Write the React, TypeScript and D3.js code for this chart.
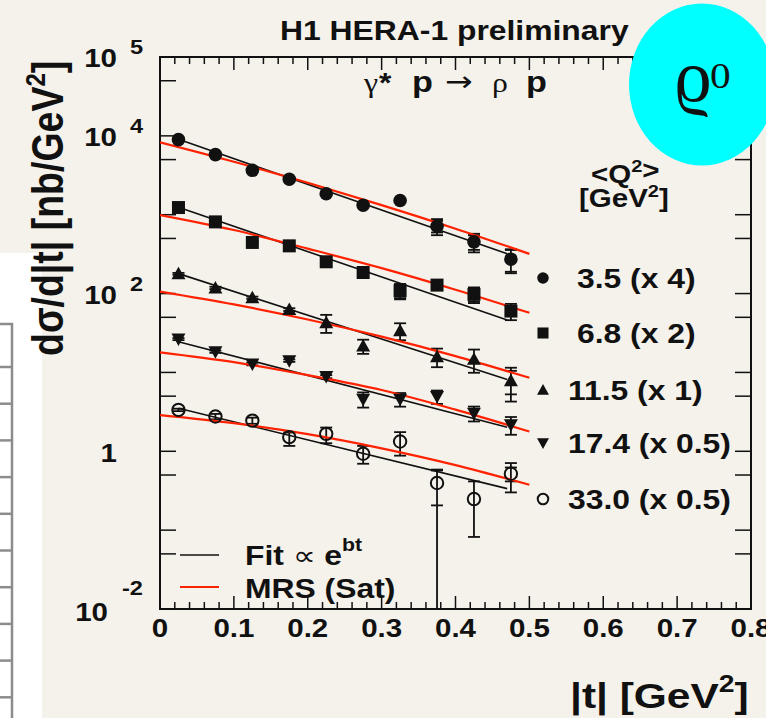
import React from 'react';
import * as d3 from 'd3';

// ---------- data ----------
const T = [0.025, 0.075, 0.125, 0.175, 0.225, 0.275, 0.325, 0.375, 0.425, 0.475];
const FIT_T = [0.025, 0.47];
const MRS_T = [0, 0.1, 0.2, 0.3, 0.4, 0.5];

// series 1: <Q2>=3.5 (x4), full circles
const s1Vals = [8954, 5781, 3656, 2813, 1844, 1319, 1513, 715, 453, 273];
const s1Err = [260, 170, 110, 85, 55, 40, 45, 165, 120, 92];
const s1Stat = [0, 0, 0, 0, 0, 0, 0, 120, 95, 84];
const s1Fit = [9040, 320];
const s1Mrs = [8280, 4690, 2540, 1325, 665, 319];

// series 2: 6.8 (x2), squares
const s2Vals = [1233, 811, 445, 403, 253, 185, 108.5, 128, 97.7, 60.0];
const s2Err = [40, 25, 14, 12, 8, 6, 24, 6, 22, 14];
const s2Stat = [0, 0, 0, 0, 0, 0, 21, 0, 19, 0];
const s2Fit = [1242, 46.2];
const s2Mrs = [991, 640, 371, 210, 112, 57.0];

// series 3: 11.5 (x1), triangles up
const s3Vals = [178, 118, 88.5, 62.7, 42.7, 21.6, 33.8, 15.85, 14.7, 7.87];
const s3Err = [5, 4, 3, 2.5, 11, 4.4, 8.2, 4.2, 4.8, 3.6];
const s3Stat = [0, 0, 0, 0, 0, 0, 0, 0, 0, 2.6];
const s3Fit = [179, 8.13];
const s3Mrs = [106, 72.8, 46.9, 28.4, 16.1, 8.55];

// series 4: 17.4 (x0.5), triangles down
const s4Vals = [26.5, 18.3, 12.8, 14.1, 8.85, 4.58, 4.58, 4.94, 3.04, 2.17];
const s4Err = [0.8, 0.6, 0.5, 0.5, 0.4, 1.0, 0.9, 0.95, 0.65, 0.55];
const s4Stat = [0, 0, 0, 0, 0, 0, 0, 0, 0, 0];
const s4Fit = [24.5, 2.02];
const s4Mrs = [18.0, 13.5, 9.23, 5.98, 3.37, 1.78];

// series 5: 33.0 (x0.5), open circles
const s5Vals = [3.35, 2.76, 2.45, 1.51, 1.665, 0.93, 1.33, 0.396, 0.248, 0.519];
const s5ErrUp = [0.12, 0.22, 0.22, 0.22, 0.335, 0.24, 0.42, 0.175, 0.167, 0.19];
const s5ErrDown = [0.12, 0.22, 0.22, 0.34, 0.4, 0.235, 0.45, 0.4, 0.166, 0.218];
const s5Stat = [0, 0, 0, 0, 0, 0, 0, 0.19, 0, 0.104];
const s5Fit = [3.51, 0.336];
const s5Mrs = [2.88, 2.27, 1.65, 1.09, 0.668, 0.376];

const seriesLabels = ['3.5 (x 4)', '6.8 (x 2)', '11.5 (x 1)', '17.4 (x 0.5)', '33.0 (x 0.5)'];
const seriesMarkers = ['circle', 'square', 'triUp', 'triDown', 'open'];

const xTickLabels = ['0', '0.1', '0.2', '0.3', '0.4', '0.5', '0.6', '0.7', '0.8'];
const yLabelValues = [1e5, 1e4, 1e2, 1, 1e-2];
const yLabelExp = ['5', '4', '2', '', '-2'];

// ---------- helpers ----------
const W = 766;
const H = 718;
const FONT = "'Liberation Sans', Arial, Helvetica, sans-serif";
const SERIF = "'Liberation Serif', 'DejaVu Serif', serif";
const SX = 1.18;
const INK = '#111';
const RED = '#ff2200';

function SText(props: any) {
  const { x, y, size, anchor = 'start', weight = 'bold', family = FONT, fill = INK, children } = props;
  return (
    <text
      transform={`translate(${x},${y}) scale(${SX},1)`}
      fontSize={size}
      fontFamily={family}
      fontWeight={weight}
      textAnchor={anchor}
      fill={fill}
    >
      {children}
    </text>
  );
}

function Marker({ kind, cx, cy, s = 1 }: { kind: string; cx: number; cy: number; s?: number }) {
  if (kind === 'circle') return <circle cx={cx} cy={cy} r={6.8 * s} fill={INK} />;
  if (kind === 'open')
    return <circle cx={cx} cy={cy} r={6.2 * s} fill="none" stroke={INK} strokeWidth={2} />;
  if (kind === 'square')
    return <rect x={cx - 6.5 * s} y={cy - 6.5 * s} width={13 * s} height={13 * s} fill={INK} />;
  if (kind === 'triUp')
    return (
      <path
        d={`M${cx},${cy - 7 * s} L${cx + 7 * s},${cy + 5.5 * s} L${cx - 7 * s},${cy + 5.5 * s} Z`}
        fill={INK}
      />
    );
  return (
    <path
      d={`M${cx},${cy + 7 * s} L${cx + 7 * s},${cy - 5.5 * s} L${cx - 7 * s},${cy - 5.5 * s} Z`}
      fill={INK}
    />
  );
}

export default function App() {
  const x = d3.scaleLinear().domain([0, 0.8]).range([160, 751]);
  const y = d3.scaleLog().domain([1e-2, 1e5]).range([609, 57]);
  const x0 = 160, x1 = 751, y0 = 57, y1 = 609;

  const series = [
    { vals: s1Vals, up: s1Err, down: s1Err, stat: s1Stat, fit: s1Fit, mrs: s1Mrs },
    { vals: s2Vals, up: s2Err, down: s2Err, stat: s2Stat, fit: s2Fit, mrs: s2Mrs },
    { vals: s3Vals, up: s3Err, down: s3Err, stat: s3Stat, fit: s3Fit, mrs: s3Mrs },
    { vals: s4Vals, up: s4Err, down: s4Err, stat: s4Stat, fit: s4Fit, mrs: s4Mrs },
    { vals: s5Vals, up: s5ErrUp, down: s5ErrDown, stat: s5Stat, fit: s5Fit, mrs: s5Mrs },
  ];

  const line = d3
    .line<[number, number]>()
    .x((d) => x(d[0]))
    .y((d) => y(d[1]));
  const curve = d3
    .line<[number, number]>()
    .x((d) => x(d[0]))
    .y((d) => y(d[1]))
    .curve(d3.curveMonotoneX);

  const xTicks = d3.range(0, 41).map((i) => i * 0.02);
  const yMajor = d3.range(-2, 6).map((e) => Math.pow(10, e));
  const yMinor = d3.range(-2, 5).map((e) => 5 * Math.pow(10, e));
  const yTicks = [...yMajor, ...yMinor];

  const cap = 6;
  const yc = (v: number) => (v > 1e-2 ? y(v) : y1);

  return (
    <svg
      width={W}
      height={H}
      style={{ position: 'absolute', left: 0, top: 0, display: 'block' }}
    >
      <defs>
        <clipPath id="plotClip">
          <rect x={x0} y={y0} width={x1 - x0} height={y1 - y0} />
        </clipPath>
      </defs>
      <rect x={0} y={0} width={W} height={H} fill="#f5f2eb" />
      {/* neighbouring panel remnant */}
      <rect x={0} y={253} width={42} height={H - 253} fill="#ffffff" />
      <path d={`M0,324 H12 V${H}`} fill="none" stroke="#8c8c8c" strokeWidth={2.5} />
      {d3.range(0, 10).map((k) => (
        <line key={k} x1={0} x2={12} y1={367 + 36.7 * k} y2={367 + 36.7 * k} stroke="#8c8c8c" strokeWidth={2.5} />
      ))}

      {/* frame */}
      <rect x={x0} y={y0} width={x1 - x0} height={y1 - y0} fill="none" stroke={INK} strokeWidth={2} />
      {xTicks.map((t, i) => {
        const len = i % 5 === 0 ? 13 : 7;
        const px = x(t);
        return (
          <g key={'xt' + i}>
            <line x1={px} x2={px} y1={y1} y2={y1 - len} stroke={INK} strokeWidth={1.5} />
            <line x1={px} x2={px} y1={y0} y2={y0 + len} stroke={INK} strokeWidth={1.5} />
          </g>
        );
      })}
      {yTicks.map((v, i) => {
        const py = y(v);
        return (
          <g key={'yt' + i}>
            <line x1={x0} x2={x0 + 16} y1={py} y2={py} stroke={INK} strokeWidth={1.5} />
            <line x1={x1} x2={x1 - 16} y1={py} y2={py} stroke={INK} strokeWidth={1.5} />
          </g>
        );
      })}

      {/* x tick labels */}
      {xTickLabels.map((lab, i) => (
        <SText key={'xl' + i} x={x(i * 0.1)} y={637} size={25} anchor="middle">
          {lab}
        </SText>
      ))}
      {/* y tick labels */}
      {yLabelValues.map((v, i) => {
        const py = y(v);
        const e = yLabelExp[i];
        if (e === '') {
          return (
            <SText key={'yl' + i} x={117} y={py + 11} size={25} anchor="end">
              1
            </SText>
          );
        }
        const neg = e.startsWith('-');
        return (
          <g key={'yl' + i}>
            <SText x={neg ? 108 : 117} y={py + (neg ? 12 : 10)} size={25} anchor="end">
              10
            </SText>
            <SText x={neg ? 122 : 130} y={neg ? py - 14 : py - 3} size={20} anchor="start">
              {e}
            </SText>
          </g>
        );
      })}

      {/* data */}
      <g clipPath="url(#plotClip)">
        {series.map((s, si) =>
          s.vals.map((v, i) => {
            const px = x(T[i]);
            const hi = v + s.up[i];
            const lo = v - s.down[i];
            const st = s.stat[i];
            return (
              <g key={`e${si}-${i}`} stroke={INK} strokeWidth={1.8}>
                <line x1={px} x2={px} y1={y(hi)} y2={yc(lo)} />
                <line x1={px - cap} x2={px + cap} y1={y(hi)} y2={y(hi)} />
                {lo > 1e-2 && <line x1={px - cap} x2={px + cap} y1={y(lo)} y2={y(lo)} />}
                {st > 0 && (
                  <>
                    <line x1={px - cap} x2={px + cap} y1={y(v + st)} y2={y(v + st)} />
                    <line x1={px - cap} x2={px + cap} y1={y(v - st)} y2={y(v - st)} />
                  </>
                )}
              </g>
            );
          })
        )}
        {series.map((s, si) => (
          <path
            key={'fit' + si}
            d={line(FIT_T.map((t, i) => [t, s.fit[i]] as [number, number])) || ''}
            fill="none"
            stroke={INK}
            strokeWidth={1.6}
          />
        ))}
        {series.map((s, si) => (
          <path
            key={'mrs' + si}
            d={curve(MRS_T.map((t, i) => [t, s.mrs[i]] as [number, number])) || ''}
            fill="none"
            stroke={RED}
            strokeWidth={2.2}
          />
        ))}
        {series.map((s, si) =>
          s.vals.map((v, i) => (
            <Marker key={`m${si}-${i}`} kind={seriesMarkers[si]} cx={x(T[i])} cy={y(v)} />
          ))
        )}
      </g>

      {/* title */}
      <SText x={280} y={40} size={27}>
        H1 HERA-1 preliminary
      </SText>
      {/* reaction */}
      <SText x={364} y={92} size={27} weight="normal" family={SERIF}>γ</SText>
      <SText x={379} y={92} size={27}>*</SText>
      <SText x={412} y={92} size={29}>p</SText>
      <SText x={445} y={91} size={28} weight="normal" family="'DejaVu Sans', sans-serif">→</SText>
      <SText x={492} y={92} size={27} weight="normal" family={SERIF}>ρ</SText>
      <SText x={526} y={92} size={29}>p</SText>

      {/* legend header */}
      <SText x={591} y={183} size={25}>
        {'<Q'}
        <tspan dy={-11} fontSize={17}>2</tspan>
        <tspan dy={7}>{'>'}</tspan>
      </SText>
      <SText x={579} y={207} size={25}>
        [GeV
        <tspan dy={-10} fontSize={17}>2</tspan>
        <tspan dy={10}>]</tspan>
      </SText>

      {/* series legend */}
      {seriesLabels.map((lab, i) => {
        const cy = [278, 333, 390, 443, 499][i];
        return (
          <g key={'lg' + i}>
            <Marker kind={seriesMarkers[i]} cx={543} cy={cy} s={0.85} />
            <SText x={i < 2 ? 577 : 568} y={cy + 10} size={27}>
              {lab}
            </SText>
          </g>
        );
      })}

      {/* line legend */}
      <line x1={180} x2={219} y1={555} y2={555} stroke={INK} strokeWidth={1.6} />
      <SText x={245} y={565} size={27}>
        Fit <tspan fontWeight="normal">∝</tspan> e
        <tspan dy={-14} fontSize={18}>bt</tspan>
      </SText>
      <line x1={180} x2={219} y1={587} y2={587} stroke={RED} strokeWidth={2.2} />
      <SText x={245} y={598} size={27}>
        MRS (Sat)
      </SText>

      {/* axis titles */}
      <SText x={570} y={708} size={36}>
        |t| [GeV
        <tspan dy={-16} fontSize={24}>2</tspan>
        <tspan dy={16}>]</tspan>
      </SText>
      <text
        transform={`translate(63,356) scale(${SX},1) rotate(-90)`}
        fontSize={37.5}
        fontFamily={FONT}
        fontWeight="bold"
        fill={INK}
      >
        dσ/d|t| [nb/GeV
        <tspan dy={-15} fontSize={24}>2</tspan>
        <tspan dy={15}>]</tspan>
      </text>

      {/* rho badge */}
      <ellipse cx={702} cy={84.5} rx={73} ry={81} fill="#00ffff" />
      <text x={674} y={101} fontSize={74} fontFamily={SERIF} fill={INK}>
        ϱ
      </text>
      <SText x={710} y={88} size={35} weight="normal" family={SERIF}>
        0
      </SText>
    </svg>
  );
}
